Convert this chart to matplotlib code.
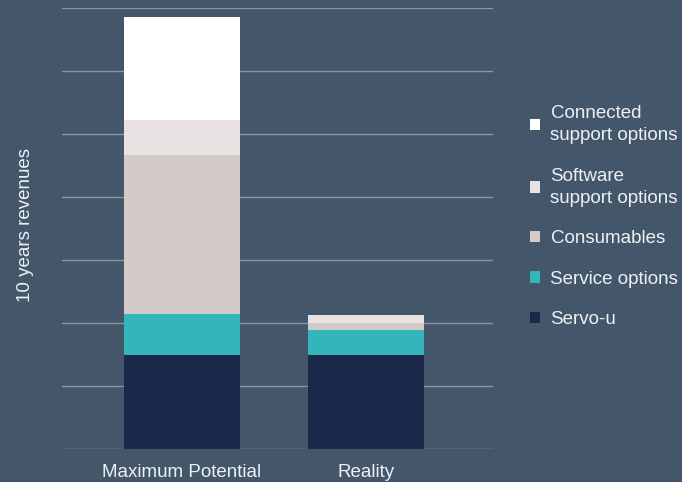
import matplotlib
matplotlib.use("Agg")
import matplotlib.pyplot as plt
from matplotlib.patches import Patch

categories = ["Maximum Potential", "Reality"]
series_names = ["Servo-u", "Service options", "Consumables",
                "Software\nsupport options", "Connected\nsupport options"]
servo_u = [1.49, 1.49]
service_options = [0.65, 0.40]
consumables = [2.52, 0.11]
software_support = [0.57, 0.13]
connected_support = [1.62, 0.0]
series_values = [servo_u, service_options, consumables, software_support, connected_support]
colors = ["#1b2849", "#33b5bb", "#d4cac8", "#e8e2e3", "#ffffff"]

bg = "#44566a"
txt = "#eef1f4"
plt.rcParams['font.family'] = ['Liberation Sans', 'DejaVu Sans']

fig = plt.figure(figsize=(6.82, 4.82), dpi=100, facecolor=bg)
ax = fig.add_axes([62/682, 1-449/482, (493-62)/682, (449-8)/482], facecolor=bg)

x = list(range(len(categories)))
bottom = [0.0]*len(categories)
handles = []
for name, vals, c in zip(series_names, series_values, colors):
    ax.bar(x, vals, bottom=bottom, width=0.63, color=c, zorder=3, linewidth=0)
    bottom = [b+v for b, v in zip(bottom, vals)]
    handles.append(Patch(facecolor=c, edgecolor='none', label=name))

ax.set_ylim(0, 7)
ax.set_xlim(-0.652, 1.690)
ax.set_yticks(range(0, 8))
ax.yaxis.grid(True, color="#8a96a3", linewidth=1)
ax.tick_params(axis='y', length=0, labelleft=False)
ax.tick_params(axis='x', length=0, colors=txt, labelsize=13.5, pad=11)
ax.set_xticks(x)
ax.set_xticklabels(categories)
for s in ax.spines.values():
    s.set_visible(False)

fig.text(26/682, 1-225/482, "10 years revenues", rotation=90, color=txt,
         fontsize=13.5, ha='center', va='center')

leg = fig.legend(handles[::-1], [h.get_label() for h in handles[::-1]],
                 loc='upper left', bbox_to_anchor=(513/682, 1-88/482),
                 frameon=False, fontsize=13.5, labelcolor=txt,
                 handlelength=0.55, handleheight=0.55, handletextpad=0.55,
                 labelspacing=1.25)
for t in leg.get_texts():
    t.set_linespacing(1.4)

fig.savefig("out.png", dpi=100, facecolor=bg)
